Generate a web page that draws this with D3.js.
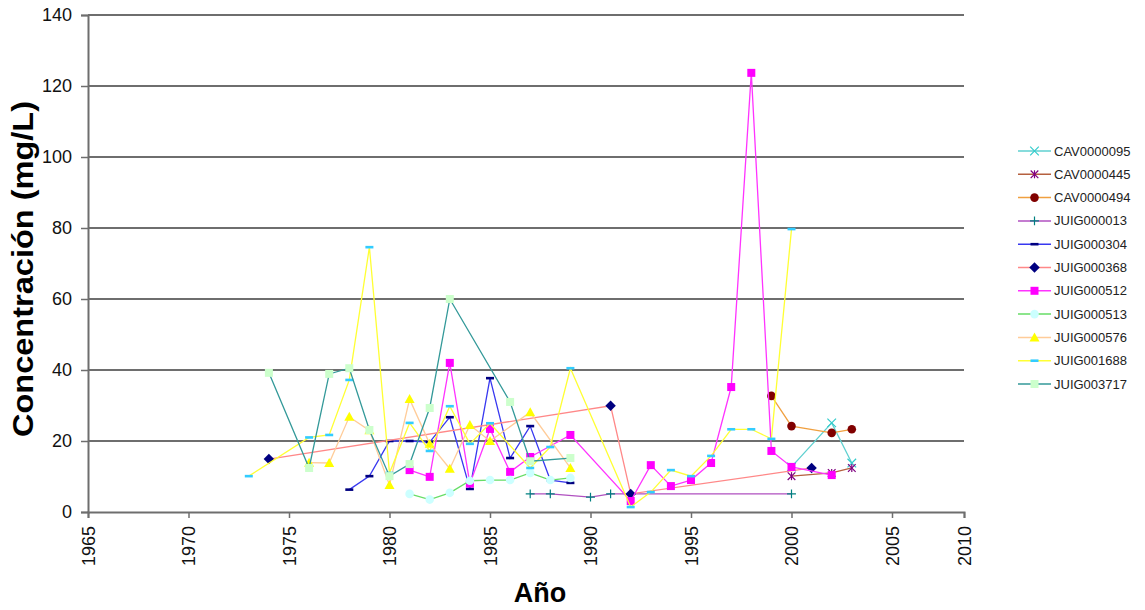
<!DOCTYPE html>
<html>
<head>
<meta charset="utf-8">
<script src="https://cdn.jsdelivr.net/npm/d3@7"></script>
<style>
  body { margin: 0; background: #fff; }
  svg { font-family: "Liberation Sans", Arial, sans-serif; }
</style>
</head>
<body>
<svg id="chart" width="1145" height="610"></svg>
<script>
// series names (legend order)
const seriesNames = ['CAV0000095', 'CAV0000445', 'CAV0000494', 'JUIG000013', 'JUIG000304',
  'JUIG000368', 'JUIG000512', 'JUIG000513', 'JUIG000576', 'JUIG001688', 'JUIG003717'];

// years / values per series
const cav95Years = [2000, 2002, 2003];
const cav95Vals = [12.7, 25.1, 13.8];
const cav445Years = [2000, 2002, 2003];
const cav445Vals = [10.1, 11.0, 12.4];
const cav494Years = [1999, 2000, 2002, 2003];
const cav494Vals = [32.7, 24.2, 22.3, 23.3];
const j13Years = [1987, 1988, 1990, 1991, 2000];
const j13Vals = [5.1, 5.1, 4.2, 5.1, 5.1];
const j304Years = [1978, 1979, 1980, 1981, 1982, 1983, 1984, 1985, 1986, 1987, 1988, 1989];
const j304Vals = [6.3, 10.1, 20.0, 20.0, 19.7, 26.7, 6.5, 37.7, 15.2, 24.2, 9.0, 8.2];
const j368Years = [1974, 1991, 1992, 2001];
const j368Vals = [14.9, 29.9, 5.1, 12.4];
const j512Years = [1981, 1982, 1983, 1984, 1985, 1986, 1987, 1989, 1992, 1993, 1994, 1995, 1996, 1997, 1998, 1999, 2000, 2002];
const j512Vals = [11.8, 9.9, 42.0, 8.0, 23.4, 11.3, 15.5, 21.7, 3.1, 13.2, 7.3, 9.0, 13.8, 35.2, 123.7, 17.2, 12.7, 10.4];
const j513Years = [1981, 1982, 1983, 1984, 1985, 1986, 1987, 1988, 1989];
const j513Vals = [5.1, 3.5, 5.4, 8.8, 9.0, 9.0, 11.0, 9.0, 9.6];
const j576Years = [1976, 1977, 1978, 1979, 1980, 1981, 1982, 1983, 1984, 1985, 1987, 1989];
const j576Vals = [13.9, 13.8, 26.8, 23.0, 7.6, 31.8, 19.2, 12.2, 24.5, 20.0, 28.1, 12.4];
const j1688Years = [1973, 1976, 1977, 1978, 1979, 1980, 1981, 1982, 1983, 1984, 1985, 1987, 1988, 1989,
  1992, 1993, 1994, 1995, 1996, 1997, 1998, 1999, 2000];
const j1688Vals = [10.1, 21.0, 21.7, 37.2, 74.6, 11.0, 25.1, 17.2, 29.8, 19.2, 25.0, 12.4, 18.3, 40.5,
  1.4, 5.6, 11.8, 10.1, 15.8, 23.3, 23.3, 20.6, 79.7];
const j3717Years = [1974, 1976, 1977, 1978, 1979, 1980, 1981, 1982, 1983, 1986, 1987, 1989];
const j3717Vals = [39.2, 12.4, 38.9, 40.5, 23.1, 10.1, 13.5, 29.3, 60.0, 31.0, 14.3, 15.2];

const xTicks = [1965, 1970, 1975, 1980, 1985, 1990, 1995, 2000, 2005, 2010];
const yTicks = [0, 20, 40, 60, 80, 100, 120, 140];

const allYears = [cav95Years, cav445Years, cav494Years, j13Years, j304Years, j368Years,
  j512Years, j513Years, j576Years, j1688Years, j3717Years];
const allVals = [cav95Vals, cav445Vals, cav494Vals, j13Vals, j304Vals, j368Vals,
  j512Vals, j513Vals, j576Vals, j1688Vals, j3717Vals];

// styling: line colour, marker type, marker colour
const styles = [
  { line: '#5fd0d0', mark: 'x', color: '#33cccc' },
  { line: '#b5603f', mark: 'star', color: '#800080' },
  { line: '#f0a040', mark: 'circle', color: '#800000' },
  { line: '#b050c0', mark: 'plus', color: '#008080' },
  { line: '#3838f0', mark: 'dash', color: '#000080' },
  { line: '#ff8888', mark: 'diamond', color: '#000080' },
  { line: '#ff33ff', mark: 'square', color: '#ff00ff' },
  { line: '#66dd66', mark: 'circle', color: '#ccffff' },
  { line: '#ffcc99', mark: 'triangle', color: '#ffff00' },
  { line: '#ffff33', mark: 'dash', color: '#33ccff' },
  { line: '#339999', mark: 'square', color: '#ccffcc' }
];

const series = seriesNames.map((name, i) => ({
  name: name,
  style: styles[i],
  points: allYears[i].map((yr, j) => ({ year: yr, value: allVals[i][j] }))
}));

const plotLeft = 88, plotRight = 964, plotTop = 15, plotBottom = 512;

const svg = d3.select('#chart');

// the last interval (2005-2010) is narrower in the picture
const xScale = d3.scaleLinear().domain([1965, 2005, 2010]).range([plotLeft, 892, plotRight]);
const yScale = d3.scaleLinear().domain([0, 140]).range([plotBottom, plotTop]);

// gridlines
svg.append('g')
  .selectAll('line')
  .data(yTicks.filter(d => d > 0))
  .join('line')
  .attr('x1', plotLeft).attr('x2', plotRight)
  .attr('y1', d => yScale(d)).attr('y2', d => yScale(d))
  .attr('stroke', '#6e6e6e')
  .attr('stroke-width', 2);

// axes
const yAxis = d3.axisLeft(yScale).tickValues(yTicks).tickSize(7).tickPadding(9);
const xAxis = d3.axisBottom(xScale).tickValues(xTicks).tickFormat(d3.format('d')).tickSize(6);

const gy = svg.append('g').attr('transform', `translate(${plotLeft},0)`).call(yAxis);
gy.select('.domain').attr('stroke', '#6e6e6e').attr('stroke-width', 2);
gy.selectAll('.tick line').attr('stroke', '#6e6e6e').attr('stroke-width', 1.5);
gy.selectAll('text').style('font-size', '18px').attr('fill', '#111');

const gx = svg.append('g').attr('transform', `translate(0,${plotBottom})`).call(xAxis);
gx.select('.domain').attr('stroke', '#6e6e6e').attr('stroke-width', 2);
gx.selectAll('.tick line').attr('stroke', '#6e6e6e').attr('stroke-width', 1.5);
gx.selectAll('text')
  .style('font-size', '18px')
  .attr('fill', '#111')
  .attr('text-anchor', 'end')
  .attr('transform', 'rotate(-90)')
  .attr('x', -14)
  .attr('y', 0)
  .attr('dy', '0.35em');

// axis titles
svg.append('text')
  .attr('transform', 'translate(33,269) rotate(-90)')
  .attr('text-anchor', 'middle')
  .attr('textLength', 336)
  .attr('lengthAdjust', 'spacingAndGlyphs')
  .style('font-size', '29px')
  .style('font-weight', 'bold')
  .text('Concentración (mg/L)');

svg.append('text')
  .attr('x', 540)
  .attr('y', 602)
  .attr('text-anchor', 'middle')
  .style('font-size', '27px')
  .style('font-weight', 'bold')
  .text('Año');

// marker drawing
function drawMarker(g, st) {
  const c = st.color;
  if (st.mark === 'square') {
    g.append('rect').attr('x', -4).attr('y', -4).attr('width', 8).attr('height', 8).attr('fill', c);
  } else if (st.mark === 'circle') {
    g.append('circle').attr('r', 4.3).attr('fill', c);
  } else if (st.mark === 'diamond') {
    g.append('path').attr('d', d3.symbol(d3.symbolDiamond2, 70)()).attr('fill', c);
  } else if (st.mark === 'triangle') {
    g.append('path').attr('d', 'M0,-5 L5,4 L-5,4 Z').attr('fill', c);
  } else if (st.mark === 'dash') {
    g.append('rect').attr('x', -4).attr('y', -1.3).attr('width', 8).attr('height', 2.6).attr('fill', c);
  } else if (st.mark === 'x') {
    g.append('path').attr('d', d3.symbol(d3.symbolTimes, 50)()).attr('stroke', c).attr('stroke-width', 1.2).attr('fill', 'none');
  } else if (st.mark === 'star') {
    g.append('path').attr('d', d3.symbol(d3.symbolTimes, 40)()).attr('stroke', c).attr('stroke-width', 1.2).attr('fill', 'none');
    g.append('line').attr('x1', 0).attr('x2', 0).attr('y1', -4).attr('y2', 4).attr('stroke', c).attr('stroke-width', 1.2);
  } else if (st.mark === 'plus') {
    g.append('path').attr('d', d3.symbol(d3.symbolPlus, 28)()).attr('stroke', c).attr('stroke-width', 1.2).attr('fill', 'none');
  }
}

const line = d3.line()
  .x(d => xScale(d.year))
  .y(d => yScale(d.value));

const plot = svg.append('g');
series.forEach(s => {
  const g = plot.append('g');
  g.append('path')
    .attr('d', line(s.points))
    .attr('fill', 'none')
    .attr('stroke', s.style.line)
    .attr('stroke-width', 1.3);
  g.selectAll('g.mk')
    .data(s.points)
    .join('g')
    .attr('class', 'mk')
    .attr('transform', d => `translate(${xScale(d.year)},${yScale(d.value)})`)
    .each(function () { drawMarker(d3.select(this), s.style); });
});

// legend
const legend = svg.append('g').attr('transform', 'translate(1018,151)');
series.forEach((s, i) => {
  const row = legend.append('g').attr('transform', `translate(0,${i * 23.3})`);
  row.append('line').attr('x1', 0).attr('x2', 33).attr('y1', 0).attr('y2', 0)
    .attr('stroke', s.style.line).attr('stroke-width', 1.5);
  const m = row.append('g').attr('transform', 'translate(16.5,0)');
  drawMarker(m, s.style);
  row.append('text')
    .attr('x', 36).attr('y', 0).attr('dy', '0.35em')
    .style('font-size', '13px')
    .attr('fill', '#222')
    .text(s.name);
});
</script>
</body>
</html>
